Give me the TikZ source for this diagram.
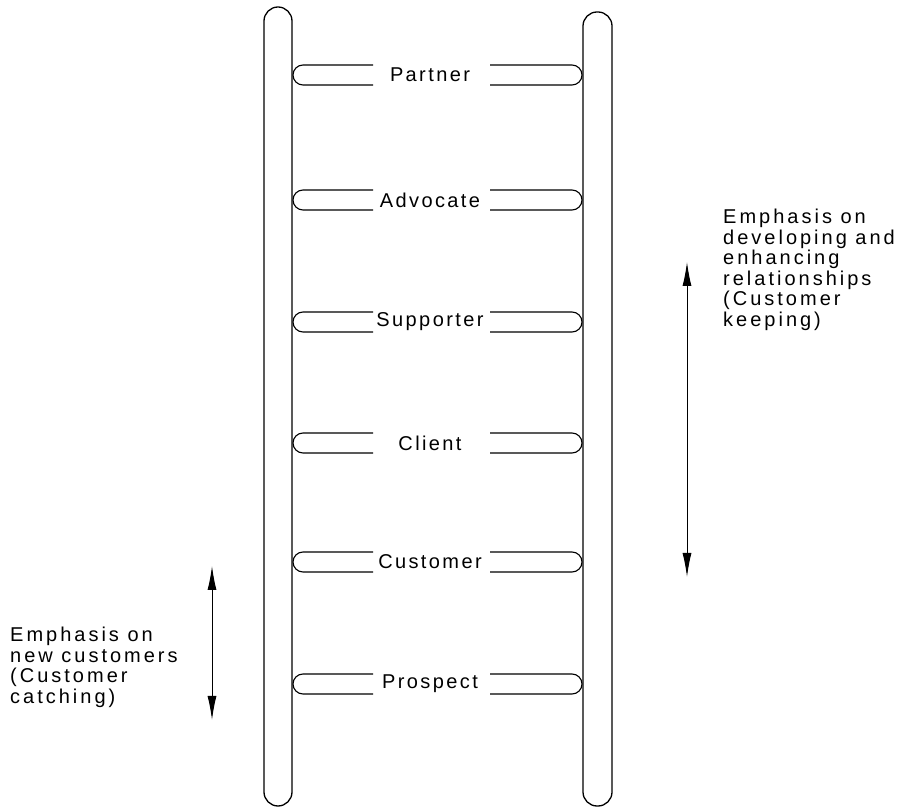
\documentclass[tikz,border=0pt]{standalone}
\usepackage{fontspec}
\setmainfont{Liberation Sans}
\newfontfamily\spaced[LetterSpace=15]{Liberation Sans}
\newfontfamily\labelfont[LetterSpace=12]{Liberation Sans}
\usetikzlibrary{arrows.meta}

\tikzset{
	rail/.style={line width=1.3pt, rounded corners=14pt},
	rung/.style={line width=1.1pt},
	stage/.style={font=\labelfont\fontsize{20}{21}\selectfont, inner sep=0pt},
	note/.style={font=\spaced\fontsize{20}{20.5}\selectfont, align=left, inner sep=0pt, anchor=north west},
	span/.style={line width=1pt, {Latex[length=24pt,width=9pt]}-{Latex[length=24pt,width=9pt]}}
}

\begin{document}
\begin{tikzpicture}[x=1pt, y=1pt]
		\useasboundingbox (0, 0) rectangle (906, 807);
		% rails
		\draw[rail] (264, 1) rectangle (292, 800);
		\draw[rail] (583, 1) rectangle (612, 795);
		% rungs, split around the stage names
		\foreach \y/\n/\t in {732/partner/Partner, 607/advocate/Advocate, 485/supporter/Supporter, 364/client/Client, 245/customer/Customer, 123/prospect/Prospect} {
			\draw[rung] (373, \y+10) -- (303, \y+10) arc (90:270:10) -- (373, \y-10);
			\draw[rung] (490, \y+10) -- (572, \y+10) arc (90:-90:10) -- (490, \y-10);
			\node[stage] (\n) at (430, \y) {\t};
		}
		\coordinate (keeptop) at (687, 545);
		\coordinate (keepbot) at (687, 230);
		\draw[span] (keeptop) -- (keepbot);
		\node[note] (keeping) at (723, 598) {Emphasis on\\developing and\\enhancing\\relationships\\(Customer\\keeping)};
		\coordinate (catchtop) at (212, 241);
		\coordinate (catchbot) at (212, 87);
		\draw[span] (catchtop) -- (catchbot);
		\node[note] (catching) at (10, 180) {Emphasis on\\new customers\\(Customer\\catching)};
	\end{tikzpicture}
\end{document}
